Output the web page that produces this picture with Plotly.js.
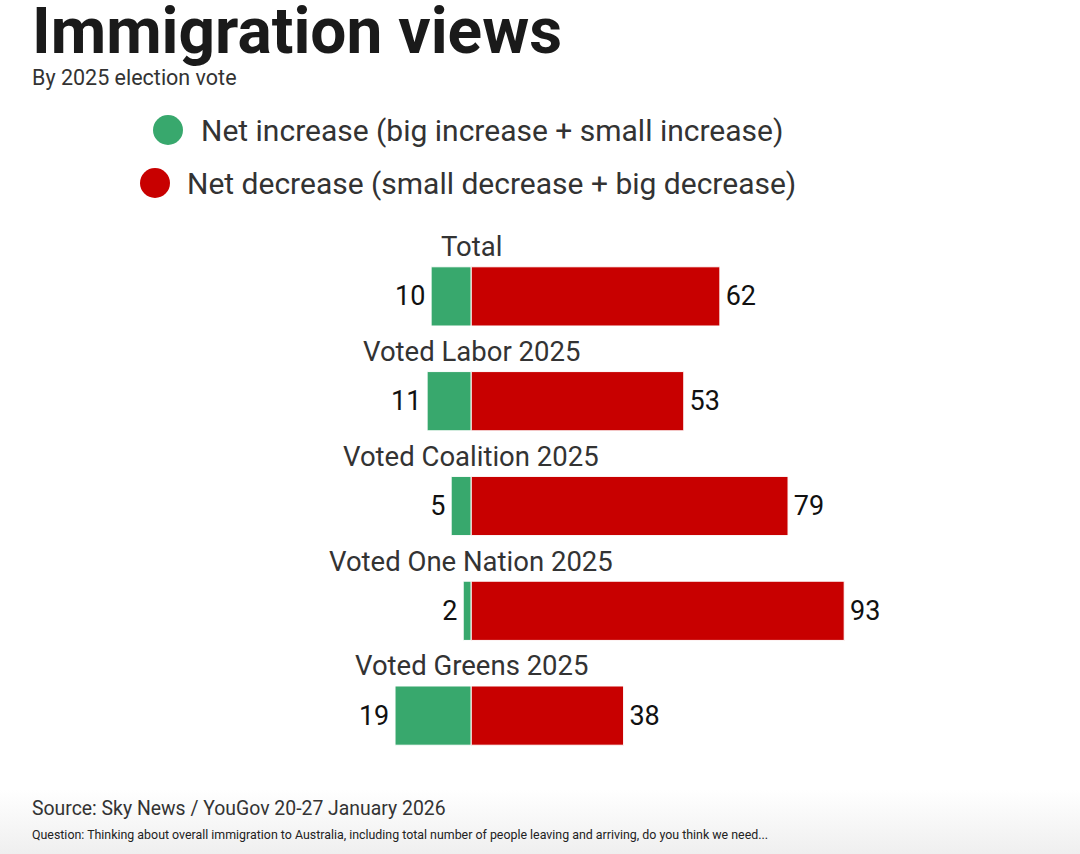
<!DOCTYPE html>
<html>
<head>
<meta charset="utf-8">
<script src="https://cdn.plot.ly/plotly-3.0.1.min.js"></script>
<style>
html,body{margin:0;padding:0;}
body{width:1080px;height:854px;background:linear-gradient(to bottom,#ffffff 0px,#ffffff 790px,#efefef 854px);}
#chart{width:1080px;height:854px;}
</style>
</head>
<body>
<div id="chart"></div>
<script>
const categories = ["Total", "Voted Labor 2025", "Voted Coalition 2025", "Voted One Nation 2025", "Voted Greens 2025"];
const netIncrease = [10, 11, 5, 2, 19];
const netDecrease = [62, 53, 79, 93, 38];
const seriesNames = ["Net increase (big increase + small increase)", "Net decrease (small decrease + big decrease)"];
const colors = ["#38a86d", "#c80000"];

const yIdx = categories.map((c, i) => i);
const pad = "\u200A";

const traces = [
  {
    type: "bar", orientation: "h",
    y: yIdx, x: netIncrease.map(v => -v),
    text: netIncrease.map(v => String(v) + pad), textposition: "outside",
    textfont: {family: "Roboto, sans-serif", size: 27, color: "#111"},
    marker: {color: colors[0], line: {color: "#ffffff", width: 1}},
    width: 0.565, name: seriesNames[0], hoverinfo: "skip", cliponaxis: false
  },
  {
    type: "bar", orientation: "h",
    y: yIdx, x: netDecrease,
    text: netDecrease.map(v => pad + String(v)), textposition: "outside",
    textfont: {family: "Roboto, sans-serif", size: 27, color: "#111"},
    marker: {color: colors[1], line: {color: "#ffffff", width: 1}},
    width: 0.565, name: seriesNames[1], hoverinfo: "skip", cliponaxis: false
  }
];

const annotations = [
  {xref: "paper", yref: "paper", x: 0.028, y: 1, yshift: 252, xanchor: "left", yanchor: "top",
   text: "<b>Immigration views</b>", showarrow: false,
   font: {family: "Roboto, sans-serif", size: 64, color: "#1a1a1a"}},
  {xref: "paper", yref: "paper", x: 0.028, y: 1, yshift: 181, xanchor: "left", yanchor: "top",
   text: "By 2025 election vote", showarrow: false,
   font: {family: "Roboto, sans-serif", size: 21.5, color: "#333"}},
  {xref: "paper", yref: "paper", x: 199 / 1080, y: 1, yshift: 114, xanchor: "left", yanchor: "middle",
   text: seriesNames[0], showarrow: false,
   font: {family: "Roboto, sans-serif", size: 30, color: "#333"}},
  {xref: "paper", yref: "paper", x: 185 / 1080, y: 1, yshift: 61, xanchor: "left", yanchor: "middle",
   text: seriesNames[1], showarrow: false,
   font: {family: "Roboto, sans-serif", size: 30, color: "#333"}},
  {xref: "paper", yref: "paper", x: 0.028, y: 0, yshift: -(808 - 768), xanchor: "left", yanchor: "middle",
   text: "Source: Sky News / YouGov 20-27 January 2026", showarrow: false,
   font: {family: "Roboto, sans-serif", size: 19.4, color: "#333"}},
  {xref: "paper", yref: "paper", x: 0.028, y: 0, yshift: -(834 - 768), xanchor: "left", yanchor: "middle",
   text: "Question: Thinking about overall immigration to Australia, including total number of people leaving and arriving, do you think we need...", showarrow: false,
   font: {family: "Roboto, sans-serif", size: 12.4, color: "#222"}}
];

categories.forEach((c, i) => {
  annotations.push({
    xref: "x", yref: "y", x: 0, y: i - 0.475, xanchor: "center", yanchor: "middle",
    text: c, showarrow: false,
    font: {family: "Roboto, sans-serif", size: 27.5, color: "#333"}
  });
});

const legendDots = [
  {cx: 168, cy: 130, color: colors[0]},
  {cx: 155, cy: 183, color: colors[1]}
];
const shapes = legendDots.map(d => ({
  type: "circle", xref: "paper", yref: "paper",
  xsizemode: "pixel", ysizemode: "pixel",
  xanchor: d.cx / 1080, yanchor: 1 + (244 - d.cy) / 524,
  x0: -15, x1: 15, y0: -15, y1: 15,
  fillcolor: d.color, line: {width: 0}
}));

const layout = {
  width: 1080, height: 854,
  margin: {l: 0, r: 0, t: 244, b: 86, pad: 0},
  paper_bgcolor: "rgba(0,0,0,0)", plot_bgcolor: "rgba(0,0,0,0)",
  barmode: "relative",
  showlegend: false,
  xaxis: {range: [-117.5, 151.8], visible: false, fixedrange: true},
  yaxis: {range: [4.5, -0.5], visible: false, fixedrange: true},
  annotations: annotations,
  shapes: shapes,
  font: {family: "Roboto, sans-serif"}
};

Plotly.newPlot("chart", traces, layout, {displayModeBar: false, staticPlot: true});
</script>
</body>
</html>
